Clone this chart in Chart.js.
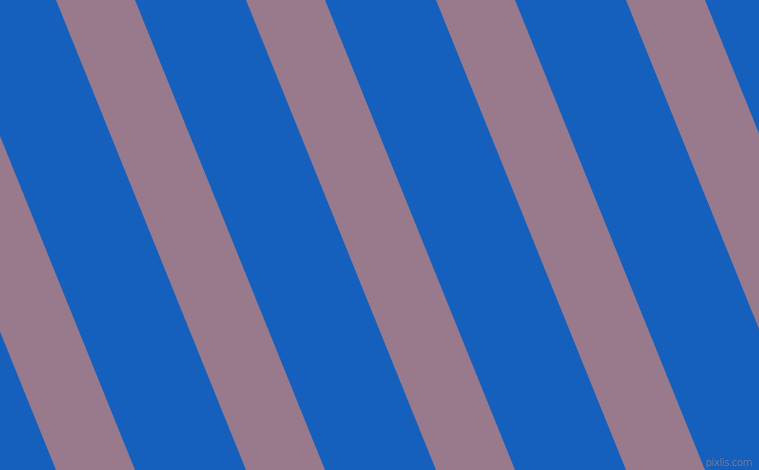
<!DOCTYPE html>
<html>
<head>
<meta charset="utf-8">
<script src="https://cdn.jsdelivr.net/npm/chart.js@4/dist/chart.umd.min.js"></script>
<style>
  html, body { margin: 0; padding: 0; overflow: hidden; }
  #wrap { position: relative; width: 759px; height: 470px; background: #1560BD; }
  #mark {
    position: absolute; right: 7px; bottom: 2px;
    font: 10px "DejaVu Sans", sans-serif; color: #6d84b2; letter-spacing: -0.4px;
    text-shadow: 0 0 1px #1d3f78;
  }
</style>
</head>
<body>
<div id="wrap">
  <canvas id="stripes" width="759" height="470"></canvas>
  <div id="mark">pixlis.com</div>
</div>
<script>
// pink stripe edges, x where they meet the top (y=0) and bottom (y=470) edges
const stripeTopLeft     = [-134, 56, 246, 436, 626];
const stripeTopRight    = [-55, 135, 325, 515, 705];
const stripeBottomLeft  = [56, 246, 436, 626, 816];
const stripeBottomRight = [135, 325, 515, 705, 895];
const stripeColor = '#997A8D';

const datasets = stripeTopLeft.map((x0, i) => ({
  data: [
    { x: x0, y: 0 },
    { x: stripeTopRight[i], y: 0 },
    { x: stripeBottomRight[i], y: 470 },
    { x: stripeBottomLeft[i], y: 470 },
    { x: x0, y: 0 }
  ],
  showLine: true,
  fill: 'shape',
  backgroundColor: stripeColor,
  borderColor: stripeColor,
  borderWidth: 0,
  pointRadius: 0,
  tension: 0
}));

new Chart(document.getElementById('stripes').getContext('2d'), {
  type: 'scatter',
  data: { datasets },
  options: {
    responsive: false,
    animation: false,
    layout: { padding: 0 },
    plugins: { legend: { display: false }, tooltip: { enabled: false } },
    scales: {
      x: { type: 'linear', min: 0, max: 759, display: false },
      y: { type: 'linear', min: 0, max: 470, reverse: true, display: false }
    }
  }
});
</script>
</body>
</html>
